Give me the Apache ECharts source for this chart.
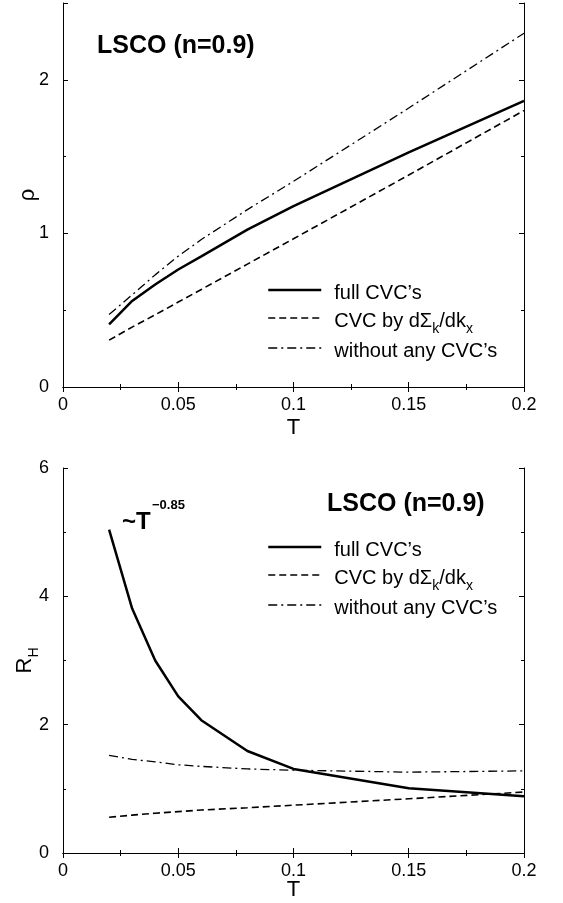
<!DOCTYPE html>
<html><head><meta charset="utf-8">
<script src="https://cdn.jsdelivr.net/npm/echarts@6/dist/echarts.min.js"></script>
<style>html,body{margin:0;padding:0;background:#fff}#c{width:563px;height:903px}</style>
</head><body><div id="c"></div>
<script>
// ---- data ----
const T = [0.02, 0.03, 0.04, 0.05, 0.06, 0.08, 0.1, 0.15, 0.2];
const rhoFull   = [0.407, 0.56, 0.667, 0.765, 0.85, 1.025, 1.177, 1.528, 1.863];
const rhoVertex = [0.305, 0.39, 0.47, 0.553, 0.635, 0.80, 0.965, 1.38, 1.80];
const rhoNone   = [0.472, 0.60, 0.73, 0.852, 0.96, 1.155, 1.339, 1.816, 2.303];
const rhFull    = [5.04, 3.81, 3.0, 2.44, 2.07, 1.59, 1.31, 1.01, 0.885];
const rhVertex  = [0.557, 0.59, 0.62, 0.645, 0.67, 0.705, 0.745, 0.845, 0.95];
const rhNone    = [1.52, 1.46, 1.42, 1.375, 1.35, 1.31, 1.29, 1.26, 1.28];
const seriesNames = ['full CVC’s', 'CVC by dΣk/dkx', 'without any CVC’s'];
const xTicks = [0, 0.05, 0.1, 0.15, 0.2];
const rhoTicks = [0, 1, 2];
const rhTicks = [0, 2, 4, 6];
const titleText = 'LSCO (n=0.9)';

const FONT = '"Liberation Sans", Arial, Helvetica, sans-serif';
const styles = [
  {width: 2.5, type: 'solid'},
  {width: 1.6, type: [7, 4]},
  {width: 1.3, type: [9, 4, 2, 4]}
];

const chart = echarts.init(document.getElementById('c'), null, {renderer: 'canvas'});

function xAxes(gridIndex, nameGap) {
  const base = {
    type: 'value', gridIndex, min: xTicks[0], max: xTicks[xTicks.length - 1], interval: 0.05,
    splitLine: {show: false},
    axisLine: {show: true, lineStyle: {color: '#000', width: 1}},
    axisTick: {show: true, inside: true, length: 5, lineStyle: {color: '#000'}},
    minorTick: {show: true, splitNumber: 2, length: 3, lineStyle: {color: '#000'}}
  };
  return [
    Object.assign({}, base, {position: 'bottom',
      axisLabel: {show: true, color: '#000', fontSize: 18, fontFamily: FONT, margin: 9},
      name: 'T', nameLocation: 'middle', nameGap: nameGap, nameMoveOverlap: false,
      nameTextStyle: {color: '#000', fontSize: 22, fontFamily: FONT}}),
    Object.assign({}, base, {position: 'top', axisLabel: {show: false}})
  ];
}

function yAxes(gridIndex, ticks, majorInt, minorInt, name, nameGap, nameStyle) {
  const mn = ticks[0];
  const mx = gridIndex === 0 ? 2.5 : ticks[ticks.length - 1];
  const common = {type: 'value', gridIndex, min: mn, max: mx, splitLine: {show: false}};
  const major = Object.assign({}, common, {
    interval: majorInt,
    axisLine: {show: true, lineStyle: {color: '#000', width: 1}},
    axisTick: {show: true, inside: true, length: 5, lineStyle: {color: '#000'}}
  });
  const minor = Object.assign({}, common, {
    interval: minorInt,
    axisLine: {show: false}, axisLabel: {show: false},
    axisTick: {show: true, inside: true, length: 3, lineStyle: {color: '#000'}}
  });
  return [
    Object.assign({}, major, {position: 'left',
      axisLabel: {show: true, color: '#000', fontSize: 18, fontFamily: FONT, margin: 14,
        formatter: v => (ticks.indexOf(v) >= 0 ? String(v) : '')},
      name: name, nameLocation: 'middle', nameGap: nameGap, nameMoveOverlap: false,
      nameTextStyle: nameStyle}),
    Object.assign({}, minor, {position: 'left'}),
    Object.assign({}, major, {position: 'right', axisLabel: {show: false}}),
    Object.assign({}, minor, {position: 'right'})
  ];
}

function mkSeries(name, xs, ys, xi, yi, st) {
  return {
    type: 'line', name, xAxisIndex: xi, yAxisIndex: yi,
    data: xs.map((t, i) => [t, ys[i]]),
    symbol: 'none', showSymbol: false, smooth: false, silent: true,
    lineStyle: {color: '#000', width: st.width, type: st.type},
    itemStyle: {color: '#000'}
  };
}

const legendRich = {
  sp: {width: 8, fontSize: 20, lineHeight: 20, padding: [3, 0, 3, 0], verticalAlign: 'top'},
  n: {fontSize: 20, fontFamily: FONT, color: '#000', lineHeight: 20, padding: [3, 0, 3, 0], verticalAlign: 'top'},
  s: {fontSize: 14, fontFamily: FONT, color: '#000', lineHeight: 12, padding: [14, 0, 0, 0], verticalAlign: 'top'}
};
function legendFmt(name) {
  if (name === seriesNames[1]) return '{sp| }{n|CVC by dΣ}{s|k}{n|/dk}{s|x}';
  return '{sp| }{n|' + name + '}';
}
function mkLegend(top) {
  return {
    show: true, orient: 'vertical', left: 267, top: top, padding: 0,
    itemWidth: 53, itemHeight: 14, itemGap: 2, selectedMode: false,
    itemStyle: {opacity: 0, borderWidth: 0},
    data: seriesNames.map((n, i) => ({name: n, lineStyle: {width: styles[i].width, type: styles[i].type, color: '#000', opacity: 1}})),
    formatter: legendFmt,
    textStyle: {fontSize: 20, fontFamily: FONT, color: '#000', rich: legendRich}
  };
}

const option = {
  animation: false,
  backgroundColor: '#fff',
  grid: [
    {left: 63, right: 39, top: 3, height: 384, outerBoundsMode: 'none'},
    {left: 63, right: 39, top: 468, height: 385, outerBoundsMode: 'none'}
  ],
  xAxis: [].concat(xAxes(0, 30), xAxes(1, 26)),
  yAxis: [].concat(
    yAxes(0, rhoTicks, 1, 0.5, 'ρ', 24, {color: '#000', fontSize: 22, fontFamily: FONT}),
    yAxes(1, rhTicks, 2, 1, '{r|R}{h|H}', 27, {color: '#000', fontSize: 22, fontFamily: FONT,
      rich: {r: {fontSize: 22, fontFamily: FONT, color: '#000', lineHeight: 22, padding: [0, 0, 6, 0], verticalAlign: 'top'},
             h: {fontSize: 14, fontFamily: FONT, color: '#000', lineHeight: 12, padding: [13, 0, 3, 0], verticalAlign: 'top'}}})
  ),
  legend: [mkLegend(280), mkLegend(537)],
  series: [
    mkSeries(seriesNames[0], T, rhoFull, 0, 0, styles[0]),
    mkSeries(seriesNames[1], T, rhoVertex, 0, 0, styles[1]),
    mkSeries(seriesNames[2], T, rhoNone, 0, 0, styles[2]),
    mkSeries(seriesNames[0], T, rhFull, 2, 4, styles[0]),
    mkSeries(seriesNames[1], T, rhVertex, 2, 4, styles[1]),
    mkSeries(seriesNames[2], T, rhNone, 2, 4, styles[2])
  ],
  graphic: [
    {type: 'text', x: 97, y: 46, silent: true,
     style: {text: titleText, font: 'bold 25px ' + FONT, fill: '#000', align: 'left', verticalAlign: 'middle'}},
    {type: 'text', x: 327, y: 504, silent: true,
     style: {text: titleText, font: 'bold 25px ' + FONT, fill: '#000', align: 'left', verticalAlign: 'middle'}},
    {type: 'text', x: 122, y: 522, silent: true,
     style: {text: '~T', font: 'bold 24px ' + FONT, fill: '#000', align: 'left', verticalAlign: 'middle'}},
    {type: 'text', x: 152, y: 505, silent: true,
     style: {text: '−0.85', font: 'bold 13px ' + FONT, fill: '#000', align: 'left', verticalAlign: 'middle'}}
  ]
};
chart.setOption(option);
</script>
</body></html>
